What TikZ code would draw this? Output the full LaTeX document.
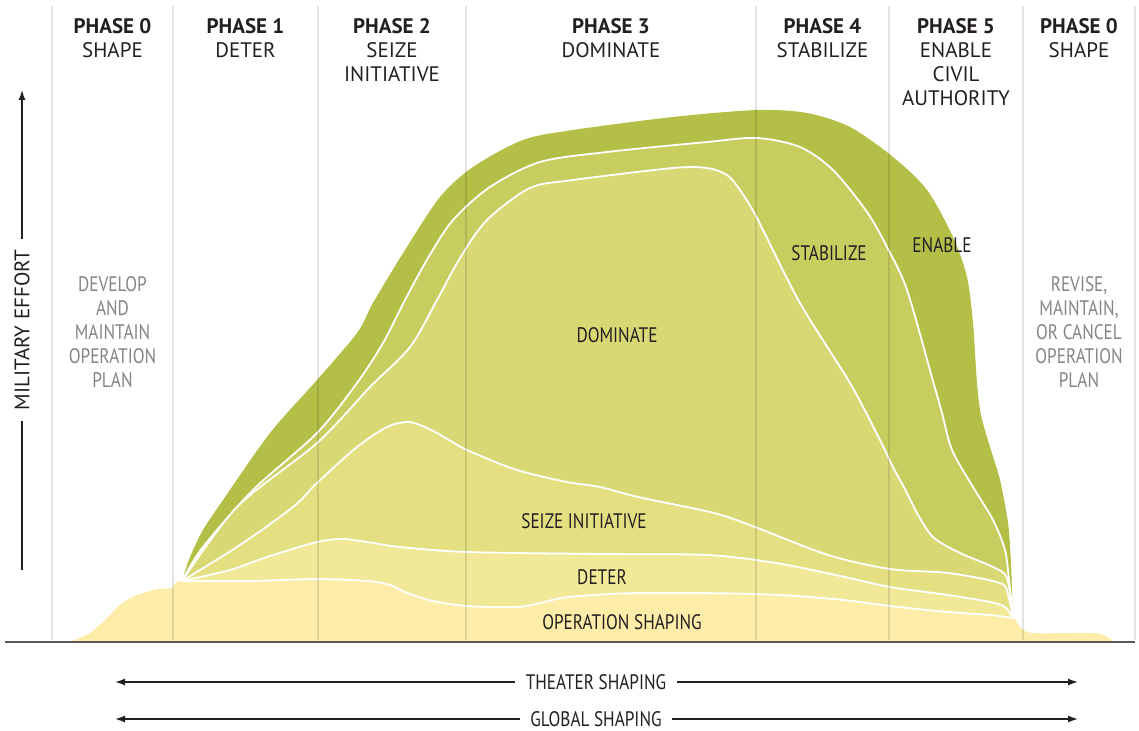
\documentclass[tikz,border=0pt]{standalone}
\usepackage{fontspec}
\setmainfont{PT Sans}[FakeStretch=0.82]
\newfontfamily\headfont{PT Sans}
\usetikzlibrary{arrows.meta}

\definecolor{inkcol}{HTML}{231F20}
\definecolor{plancol}{HTML}{838588}
\definecolor{axiscol}{HTML}{58595B}
\definecolor{enablecol}{HTML}{B3BF46}
\definecolor{stabcol}{HTML}{C8CD60}
\definecolor{domcol}{HTML}{D8D975}
\definecolor{seizecol}{HTML}{E4E082}
\definecolor{detercol}{HTML}{F1E898}
\definecolor{opcol}{HTML}{FDEDA8}

\begin{document}
\begin{tikzpicture}[x=0.5pt,y=-0.5pt,
    every node/.style={font=\fontsize{10.5}{12}\selectfont,inner sep=0pt,align=center,text=inkcol},
    phase/.style={anchor=north,font=\headfont\fontsize{10.5}{12}\selectfont},
    plan/.style={anchor=north,text=plancol},
    layer/.style={draw=white,line width=0.9pt,line join=round},
    gridline/.style={draw=black,opacity=0.11,line width=0.8pt},
    span/.style={-{Latex[length=5pt,width=3.5pt]},line width=0.7pt,draw=inkcol},
    spanlbl/.style={inner xsep=5pt}]
    \useasboundingbox (0,0) rectangle (1139,731);

    % stacked efforts, back to front
    \fill[enablecol] plot[smooth] coordinates {(182,581) (190,557) (203,530) (223,500) (270,433) (317,380) (357,333) (373,303) (405,250) (440,197) (473,167) (523,140) (573,130) (673,117) (757,110) (807,113) (850,127) (893,157) (927,190) (953,237) (967,277) (973,323) (977,383) (981,415) (990,447) (1000,480) (1008,523) (1011,563) (1012,593) (1013,618)} -- (1013,641) -- (182,641) -- cycle;
    \filldraw[layer,fill=stabcol] plot[smooth] coordinates {(182,581) (203,547) (253,490) (317,433) (357,383) (383,343) (405,300) (428,258) (453,220) (490,187) (540,162) (607,152) (707,142) (757,138) (800,147) (833,170) (867,212) (887,247) (907,290) (933,381) (942,413) (952,450) (973,487) (993,520) (1005,550) (1009,580) (1013,618)} -- (1013,641) -- (182,641) -- cycle;
    \filldraw[layer,fill=domcol] plot[smooth] coordinates {(182,581) (237,507) (317,443) (370,387) (410,347) (437,300) (460,258) (487,220) (530,188) (573,180) (673,168) (707,168) (727,175) (740,190) (757,218) (800,303) (850,383) (880,440) (893,467) (907,493) (917,513) (933,537) (960,553) (993,567) (1007,578) (1013,618)} -- (1013,641) -- (182,641) -- cycle;
    \filldraw[layer,fill=seizecol] plot[smooth] coordinates {(182,581) (240,545) (293,507) (317,483) (357,447) (387,427) (407,422) (420,425) (437,433) (467,450) (517,470) (567,482) (600,487) (638,497) (714,513) (755,527) (828,555) (890,569) (948,573) (1000,583) (1008,595) (1013,618)} -- (1013,641) -- (182,641) -- cycle;
    \filldraw[layer,fill=detercol] plot[smooth] coordinates {(182,581) (230,570) (267,557) (317,542) (343,539) (367,542) (400,547) (467,552) (600,554) (707,555) (776,563) (845,577) (890,587) (948,595) (990,602) (1005,607) (1013,618)} -- (1013,641) -- (182,641) -- cycle;
    \fill[opcol] plot[smooth] coordinates {(72,641) (90,633) (105,620) (120,605) (135,596) (157,589) (172,588) (182,581) (250,581) (317,579) (367,581) (390,585) (407,593) (433,601) (467,606) (517,607) (540,603) (569,597) (638,593) (755,594) (834,599) (890,606) (948,612) (990,615) (1013,618) (1020,627) (1033,633) (1093,633) (1107,637) (1113,641)} -- cycle;
    \draw[layer] plot[smooth] coordinates {(182,581) (250,581) (317,579) (367,581) (390,585) (407,593) (433,601) (467,606) (517,607) (540,603) (569,597) (638,593) (755,594) (834,599) (890,606) (948,612) (990,615) (1013,618)};

    \foreach \gx in {52,173,318,466,756,889,1023,1135}
        \draw[gridline] (\gx,6) -- (\gx,640);
    \draw[axiscol,line width=1pt] (5,641.5) -- (1135,641.5);

    \begin{scope}[every node/.append style={phase}]
        \node (p0) at (112.5,18) {\textbf{PHASE 0}\\SHAPE};
        \node (p1) at (245.5,18) {\textbf{PHASE 1}\\DETER};
        \node (p2) at (392,18) {\textbf{PHASE 2}\\SEIZE\\INITIATIVE};
        \node (p3) at (611,18) {\textbf{PHASE 3}\\DOMINATE};
        \node (p4) at (822.5,18) {\textbf{PHASE 4}\\STABILIZE};
        \node (p5) at (956,18) {\textbf{PHASE 5}\\ENABLE\\CIVIL\\AUTHORITY};
        \node (p0b) at (1079,18) {\textbf{PHASE 0}\\SHAPE};
    \end{scope}

    \node[plan] (develop) at (112.5,276) {DEVELOP\\AND\\MAINTAIN\\OPERATION\\PLAN};
    \node[plan] (revise) at (1079,276) {REVISE,\\MAINTAIN,\\OR CANCEL\\OPERATION\\PLAN};

    \node (domlbl) at (617,335) {DOMINATE};
    \node (stablbl) at (829,253) {STABILIZE};
    \node (enablbl) at (942,245) {ENABLE};
    \node (seizelbl) at (584,521) {SEIZE INITIATIVE};
    \node (deterlbl) at (602,577) {DETER};
    \node (oplbl) at (622,622) {OPERATION SHAPING};

    % effort axis
    \node[rotate=90,spanlbl,font=\headfont\fontsize{10.5}{12}\selectfont] (effort) at (22,330) {MILITARY EFFORT};
    \coordinate (effbot) at (22,570);
    \coordinate (efftop) at (22,90);
    \draw[inkcol,line width=0.7pt] (effort.west) -- (effbot);
    \draw[span] (effort.east) -- (efftop);

    % shaping spans
    \node[spanlbl] (theater) at (596,682) {THEATER SHAPING};
    \node[spanlbl] (global) at (596,719) {GLOBAL SHAPING};
    \coordinate (theaterL) at (115,682);
    \coordinate (theaterR) at (1078,682);
    \coordinate (globalL) at (115,719);
    \coordinate (globalR) at (1078,719);
    \draw[span] (theater.west) -- (theaterL);
    \draw[span] (theater.east) -- (theaterR);
    \draw[span] (global.west) -- (globalL);
    \draw[span] (global.east) -- (globalR);
\end{tikzpicture}
\end{document}
